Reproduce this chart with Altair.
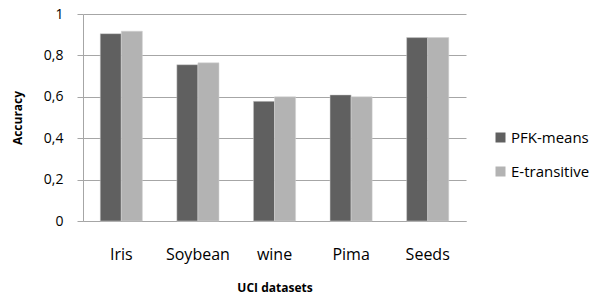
import altair as alt
import pandas as pd

datasets = ["Iris", "Soybean", "wine", "Pima", "Seeds"]
methods = ["PFK-means", "E-transitive"]
pfk_means = [0.905, 0.755, 0.578, 0.609, 0.886]
e_transitive = [0.917, 0.764, 0.600, 0.600, 0.886]
colors = ["#606060", "#b3b3b3"]

rows = []
for d, a, b in zip(datasets, pfk_means, e_transitive):
    rows.append({"dataset": d, "method": methods[0], "accuracy": a})
    rows.append({"dataset": d, "method": methods[1], "accuracy": b})
df = pd.DataFrame(rows)

grid = "#a6a6a6"
font = "Open Sans"

chart = alt.Chart(df).mark_bar(stroke="#d0d0d0", strokeWidth=0.5).encode(
    x=alt.X("dataset:N", sort=datasets,
            scale=alt.Scale(paddingInner=0.45, paddingOuter=0.225),
            axis=alt.Axis(title="UCI datasets", labelAngle=0, ticks=False,
                          labelPadding=25, labelFontSize=16, labelColor="#000000",
                          labelFont=font, domainColor=grid,
                          titleFont=font, titleFontSize=12, titleFontWeight="bold",
                          titleColor="#000000", titleX=191.5, titleY=66,
                          titleBaseline="middle", titleAlign="center")),
    xOffset=alt.XOffset("method:N", sort=methods,
                        scale=alt.Scale(paddingInner=0, paddingOuter=0)),
    y=alt.Y("accuracy:Q", scale=alt.Scale(domain=[0, 1]),
            axis=alt.Axis(title="Accuracy", values=[0, 0.2, 0.4, 0.6, 0.8, 1],
                          labelExpr="replace(format(datum.value, '~g'), '.', ',')",
                          tickSize=6, tickColor=grid, domainColor=grid,
                          gridColor=grid, labelPadding=14, labelFontSize=14,
                          labelFont=font, labelColor="#000000",
                          titleFont=font, titleFontSize=12, titleFontWeight="bold",
                          titleColor="#000000", titleAngle=270, titleX=-66,
                          titleY=103.5, titleAlign="center", titleBaseline="middle")),
    color=alt.Color("method:N", sort=methods,
                    scale=alt.Scale(domain=methods, range=colors),
                    legend=alt.Legend(title=None, orient="none", legendX=410,
                                      legendY=116, symbolType="square",
                                      symbolSize=100, symbolStrokeWidth=0,
                                      labelFont=font, labelFontSize=15,
                                      labelColor="#000000", labelOffset=3,
                                      labelLimit=0,
                                      rowPadding=18, padding=0)),
).properties(
    width=383, height=207,
    autosize=alt.AutoSizeParams(type="none"),
    padding={"left": 75, "top": 6, "right": 128, "bottom": 73},
).configure_view(stroke=None).configure_axisX(grid=False)

chart.save("out.html", embed_options={"renderer": "svg", "actions": False})
